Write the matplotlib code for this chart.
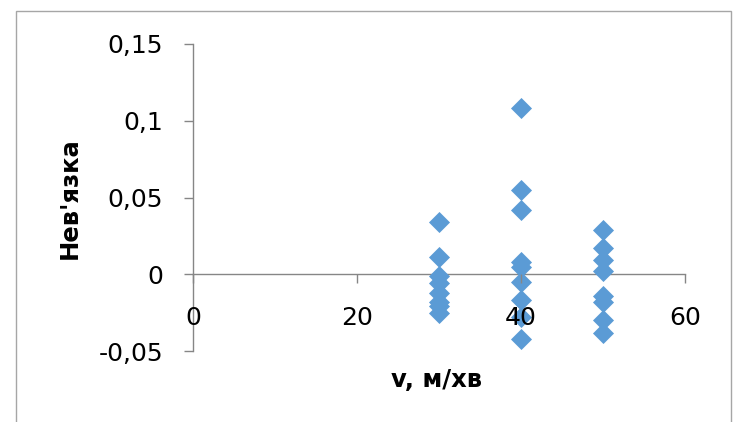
import matplotlib
matplotlib.use("Agg")
import matplotlib.pyplot as plt
from matplotlib.patches import Rectangle
from matplotlib.ticker import FuncFormatter

# Residuals grouped by speed
speed_30 = [30] * 8
resid_30 = [0.034, 0.011, -0.001, -0.006, -0.012, -0.018, -0.021, -0.025]
speed_40 = [40] * 9
resid_40 = [0.108, 0.055, 0.042, 0.008, 0.005, -0.005, -0.017, -0.028, -0.042]
speed_50 = [50] * 8
resid_50 = [0.029, 0.017, 0.009, 0.002, -0.014, -0.018, -0.030, -0.038]

x_ticks = [0, 20, 40, 60]
y_ticks = [-0.05, 0, 0.05, 0.1, 0.15]

W, H = 735, 422
fig = plt.figure(figsize=(W / 100, H / 100), dpi=100)
plt.rcParams["font.family"] = ["DejaVu Sans"]

axis_gray = "#868686"
blue = "#5B9BD5"

# outer chart frame
fig.patches.append(Rectangle((16 / W, -0.05), (731 - 16) / W, 1.05 - 11 / H,
                             transform=fig.transFigure, fill=False,
                             edgecolor="#A6A6A6", linewidth=1.0))

ax = fig.add_axes([193 / W, (H - 351) / H, (685 - 193) / W, (351 - 44) / H])
xs = speed_30 + speed_40 + speed_50
ys = resid_30 + resid_40 + resid_50
ax.scatter(xs, ys, marker="D", s=115, color=blue, linewidths=0, zorder=3,
           clip_on=False)

ax.set_xlim(0, 60)
ax.set_ylim(-0.05, 0.15)
ax.set_xticks(x_ticks)
ax.set_yticks(y_ticks)

def comma_fmt(v, pos):
    s = f"{v:g}"
    return s.replace(".", ",")

ax.yaxis.set_major_formatter(FuncFormatter(comma_fmt))
ax.xaxis.set_major_formatter(FuncFormatter(comma_fmt))

for side in ("top", "right"):
    ax.spines[side].set_visible(False)
ax.spines["bottom"].set_position(("data", 0))
for side in ("left", "bottom"):
    ax.spines[side].set_color(axis_gray)
    ax.spines[side].set_linewidth(1.0)

ax.tick_params(axis="both", direction="out", length=6.5, width=1.0,
               color=axis_gray, labelsize=18, labelcolor="black")
ax.tick_params(axis="x", pad=16.5)
ax.tick_params(axis="y", pad=15)
# x tick labels sit on top of the markers
ax.xaxis.set_zorder(4)

fig.text(70 / W, 1 - 198 / H, "Нев'язка", rotation=90, ha="center",
         va="center", fontsize=17.5, fontweight="bold")
fig.text(437 / W, 1 - 380 / H, "v, м/хв", ha="center", va="center",
         fontsize=17.5, fontweight="bold")

fig.savefig("out.png", dpi=100)
